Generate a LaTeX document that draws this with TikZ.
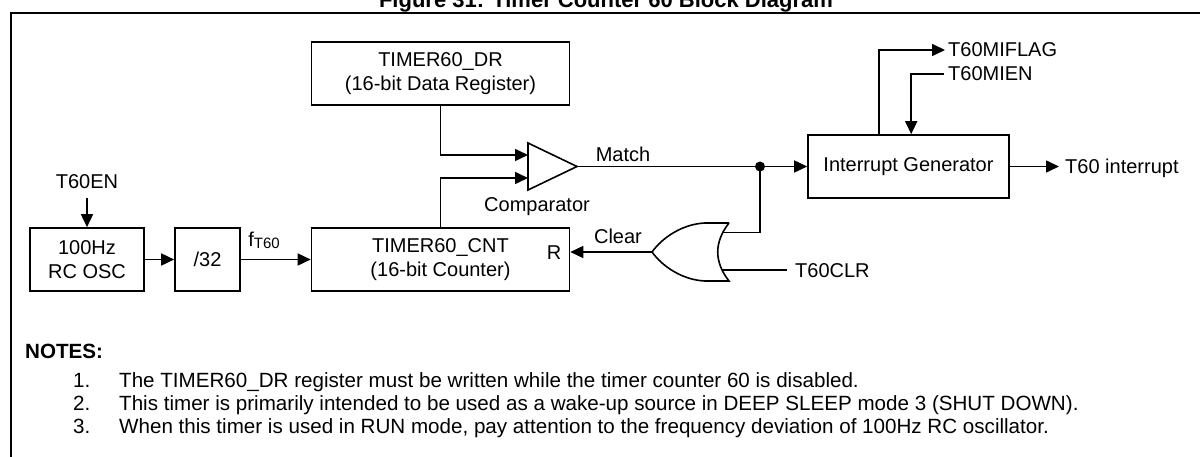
\documentclass[tikz,border=0pt]{standalone}
\usepackage{fontspec}
\setmainfont{Liberation Sans}
\usetikzlibrary{arrows.meta,calc}
\begin{document}
\begin{tikzpicture}[x=1pt,y=-1pt,
  every node/.style={font=\fontsize{20}{24}\selectfont, inner sep=0pt},
  blk/.style={draw, line width=1.6pt, align=center, minimum height=63pt},
  wire/.style={line width=1.6pt},
  arr/.style={wire, -{Triangle[length=13pt,width=12pt]}},
  lbl/.style={anchor=base},
  lblw/.style={anchor=base west},
  note/.style={anchor=base west, font=\fontsize{20.6}{22}\selectfont},
]
\useasboundingbox (0,0) rectangle (1200,457);
% frame
\draw[line width=2.6pt] (11,458) -- (11,13) -- (1201,13);
\node[anchor=base, font=\bfseries\fontsize{22}{22}\selectfont] (title) at (606,8) {Figure 31: Timer Counter 60 Block Diagram};

% blocks
\node[blk, minimum width=114pt] (osc) at (87,259.5) {100Hz\\RC OSC};
\node[blk, minimum width=65pt] (div) at (207.5,259.5) {/32};
\node[blk, minimum width=258pt] (cnt) at (440.5,259.5) {TIMER60\_CNT\\(16-bit Counter)};
\node[blk, minimum width=258pt] (dr) at (440.5,73.5) {TIMER60\_DR\\(16-bit Data Register)};
\node[blk, minimum width=201pt] (ig) at (908.5,166.5) {Interrupt Generator};

% labels
\node[lbl] (en) at (87,189) {T60EN};
\node[lbl] (ft) at (264,247) {f\raisebox{-1.5pt}{\fontsize{15}{15}\selectfont T60}};
\node[lbl] (r) at (554,260) {R};
\node[lbl] (cmplbl) at (537,212) {Comparator};
\node[lbl] (match) at (623,162) {Match};
\node[lbl] (clear) at (618,244) {Clear};
\node[lblw] (clr) at (795,277) {T60CLR};
\node[lblw] (irq) at (1065,173.5) {T60 interrupt};
\node[lblw] (flag) at (948,57) {T60MIFLAG};
\node[lblw] (mien) at (948,81) {T60MIEN};

% comparator
\coordinate (cA) at (528,143);
\coordinate (cB) at (528,190);
\coordinate (cout) at (577,166.5);
\coordinate (cin1) at (528,155);
\coordinate (cin2) at (528,178);
\draw[wire, line join=miter] (cA) -- (cout) -- (cB) -- cycle;

% OR gate
\coordinate (orT) at (729,223);
\coordinate (orB) at (729,281);
\coordinate (orTip) at (652,252);
\coordinate (orIn1) at (722,232.5);
\coordinate (orIn2) at (722,270);
\draw[wire, line join=miter] (orT) -- (705,223) .. controls (682,224) and (662,238) .. (orTip)
  .. controls (662,266) and (682,280) .. (705,281) -- (orB)
  .. controls (714,262) and (714,242) .. (orT);

% coordinates for free ends
\coordinate (jn) at (760,166.5);
\coordinate (irqtip) at (1059,166.5);
\coordinate (flagtip) at (945,50);
\coordinate (mienend) at (944,74);
\coordinate (clrend) at (787,270);
\coordinate (entop) at (87,198);

% connectors
\draw[arr] (entop) -- (osc.north);
\draw[arr] (osc) -- (div);
\draw[arr] (div) -- (cnt);
\draw[arr] (dr.south) |- (cin1);
\draw[arr] (cnt.north) |- (cin2);
\draw[wire] (cout) -- (jn);
\draw[arr] (jn) -- (ig.west);
\fill (jn) circle (5pt);
\draw[wire] (jn) |- (orIn1);
\draw[wire] (clrend) -- (orIn2);
\draw[arr] (orTip) -- (orTip -| cnt.east);
\draw[arr] (ig.east) -- (irqtip);
\draw[arr] ($(ig.north west)+(72,0)$) |- (flagtip);
\draw[arr] (mienend) -| ($(ig.north west)+(104,0)$);

% notes
\node[note, font=\bfseries\fontsize{20.6}{22}\selectfont] (notes) at (25,358) {NOTES:};
\node[note] (n1) at (73,387) {1.};
\node[note] (t1) at (119,387) {The TIMER60\_DR register must be written while the timer counter 60 is disabled.};
\node[note] (n2) at (73,410) {2.};
\node[note] (t2) at (119,410) {This timer is primarily intended to be used as a wake-up source in DEEP SLEEP mode 3 (SHUT DOWN).};
\node[note] (n3) at (73,433) {3.};
\node[note] (t3) at (119,433) {When this timer is used in RUN mode, pay attention to the frequency deviation of 100Hz RC oscillator.};
\end{tikzpicture}
\end{document}
